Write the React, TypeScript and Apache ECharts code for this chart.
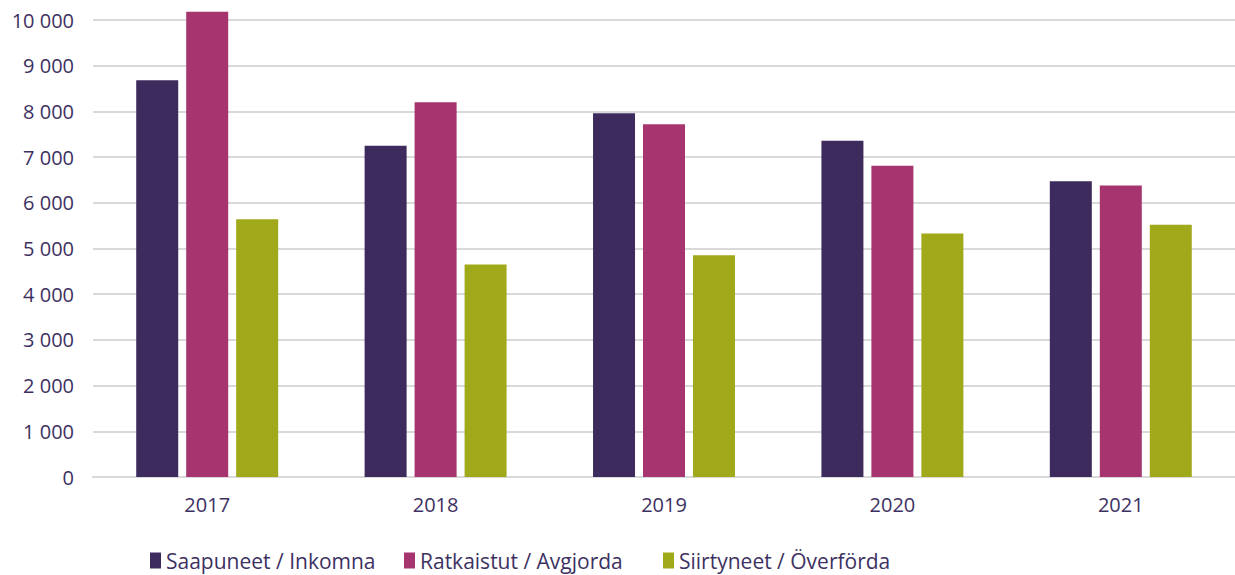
import React, { useEffect, useRef } from "react";
import * as echarts from "echarts";

const years = ["2017", "2018", "2019", "2020", "2021"];
const saapuneet = [8680, 7250, 7960, 7360, 6470];
const ratkaistut = [10180, 8200, 7720, 6810, 6380];
const siirtyneet = [5640, 4650, 4850, 5330, 5520];
const seriesNames = ["Saapuneet / Inkomna", "Ratkaistut / Avgjorda", "Siirtyneet / Överförda"];
const colors = ["#3d2b5e", "#a6346f", "#a0a91a"];

const textColor = "#3d3162";
const font = "'Open Sans', sans-serif";

export default function App() {
  const ref = useRef<HTMLDivElement>(null);
  useEffect(() => {
    if (!ref.current) return;
    const chart = echarts.init(ref.current, undefined, { renderer: "svg" });
    const fmt = (v: number) => String(v).replace(/\B(?=(\d{3})+(?!\d))/g, " ");
    const legendLefts = [145, 399, 658];
    chart.setOption({
      animation: false,
      textStyle: { fontFamily: font },
      grid: { left: 93, top: 20, width: 1145, height: 457, containLabel: false },
      legend: seriesNames.map((n, i) => ({
        data: [n],
        left: legendLefts[i],
        top: 545,
        itemWidth: 11,
        itemHeight: 16,
        itemGap: 5,
        icon: "rect",
        textStyle: { color: textColor, fontSize: 21, fontFamily: font },
      })),
      xAxis: {
        type: "category",
        data: years,
        axisLine: { show: true, lineStyle: { color: "#d9d9d9", width: 2 } },
        axisTick: { show: false },
        axisLabel: { color: textColor, fontSize: 20, margin: 17, fontFamily: font },
      },
      yAxis: {
        type: "value",
        min: 0,
        max: 10000,
        interval: 1000,
        axisLine: { show: false },
        axisTick: { show: false },
        splitLine: { lineStyle: { color: "#d9d9d9", width: 2 } },
        axisLabel: { color: textColor, fontSize: 20, margin: 19, fontFamily: font, formatter: fmt },
      },
      series: [saapuneet, ratkaistut, siirtyneet].map((d, i) => ({
        name: seriesNames[i],
        type: "bar",
        data: d,
        barWidth: 42,
        barGap: "19%",
        clip: false,
        itemStyle: { color: colors[i] },
      })),
    });
    return () => chart.dispose();
  }, []);
  return (
    <div
      ref={ref}
      style={{ position: "absolute", left: 0, top: 0, width: 1235, height: 575 }}
    />
  );
}
